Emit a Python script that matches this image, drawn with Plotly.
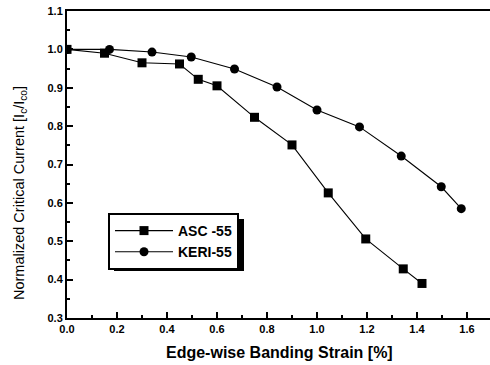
import plotly.graph_objects as go

# ASC-55 (squares)
asc_strain = [0.0, 0.15, 0.30, 0.45, 0.525, 0.60, 0.75, 0.90, 1.045, 1.195, 1.345, 1.42]
asc_ic = [1.0, 0.99, 0.965, 0.962, 0.922, 0.905, 0.823, 0.751, 0.626, 0.506, 0.428, 0.39]

# KERI-55 (circles)
keri_strain = [0.0, 0.17, 0.34, 0.497, 0.67, 0.84, 1.0, 1.17, 1.337, 1.497, 1.577]
keri_ic = [1.0, 1.0, 0.993, 0.98, 0.949, 0.902, 0.842, 0.798, 0.722, 0.642, 0.585]

x_ticks = [0.0, 0.2, 0.4, 0.6, 0.8, 1.0, 1.2, 1.4, 1.6]
y_ticks = [0.3, 0.4, 0.5, 0.6, 0.7, 0.8, 0.9, 1.0, 1.1]

FONT = "Liberation Sans, Arial, sans-serif"

fig = go.Figure()
fig.add_trace(go.Scatter(
    x=asc_strain, y=asc_ic, name="ASC -55", mode="lines+markers",
    line=dict(color="black", width=1.1),
    marker=dict(symbol="square", size=9, color="black"),
))
fig.add_trace(go.Scatter(
    x=keri_strain, y=keri_ic, name="KERI-55", mode="lines+markers",
    line=dict(color="black", width=1.1),
    marker=dict(symbol="circle", size=9, color="black"),
))

L, R, T, B = 67, 0, 11, 47
W, H = 490, 365
pw, ph = W - L - R, H - T - B

def px2x(p):
    return (p - L) / pw

def px2y(p):
    return (H - B - p) / ph

# legend shadow: right strip and bottom strip
shadow = [
    dict(x0=238, x1=244, y0=219, y1=271),
    dict(x0=114, x1=244, y0=265, y1=271),
]
for s in shadow:
    fig.add_shape(type="rect", xref="paper", yref="paper",
                  x0=px2x(s["x0"]), x1=px2x(s["x1"]),
                  y0=px2y(s["y1"]), y1=px2y(s["y0"]),
                  fillcolor="black", opacity=1, line=dict(width=0),
                  layer="above")

fig.add_annotation(
    text="Normalized Critical Current [I<sub>c</sub>/I<sub>co</sub>]",
    xref="paper", yref="paper", x=px2x(20), y=px2y(193),
    xanchor="center", yanchor="middle", textangle=-90, showarrow=False,
    font=dict(size=14.5, family=FONT, color="black"),
)
fig.add_annotation(
    text="Edge-wise Banding Strain [%]",
    xref="paper", yref="paper", x=px2x(279), y=px2y(352),
    xanchor="center", yanchor="middle", showarrow=False,
    font=dict(size=16, family=FONT, color="black", weight="bold"),
)

fig.update_layout(
    width=W, height=H,
    margin=dict(l=L, r=R, t=T, b=B),
    paper_bgcolor="white", plot_bgcolor="white",
    font=dict(family=FONT, color="black", size=12),
    showlegend=True,
    legend=dict(
        x=px2x(108), y=px2y(213), xanchor="left", yanchor="top",
        bgcolor="white", bordercolor="black", borderwidth=2,
        font=dict(size=14, family=FONT, weight="bold"), itemwidth=58,
        tracegroupgap=0,
    ),
    xaxis=dict(
        range=[0, 1.692], tickvals=x_ticks, ticktext=[f"{v:.1f}" for v in x_ticks],
        ticks="inside", ticklen=6, tickwidth=1.5, tickcolor="black",
        minor=dict(dtick=0.1, ticks="inside", ticklen=3, tickwidth=1.5, tickcolor="black"),
        showline=True, linecolor="black", linewidth=2, mirror=True,
        showgrid=False, zeroline=False,
        tickfont=dict(size=11, family=FONT, weight="bold"),
    ),
    yaxis=dict(
        range=[0.3, 1.1], tickvals=y_ticks, ticktext=[f"{v:.1f}" for v in y_ticks],
        ticks="inside", ticklen=6, tickwidth=1.5, tickcolor="black",
        minor=dict(dtick=0.05, ticks="inside", ticklen=3, tickwidth=1.5, tickcolor="black"),
        showline=True, linecolor="black", linewidth=2,
        showgrid=False, zeroline=False,
        tickfont=dict(size=11, family=FONT, weight="bold"),
    ),
)

fig.write_html(
    "out.html",
    config={"displayModeBar": False},
    post_script="document.body.style.margin='0';document.body.style.overflow='hidden';",
)
